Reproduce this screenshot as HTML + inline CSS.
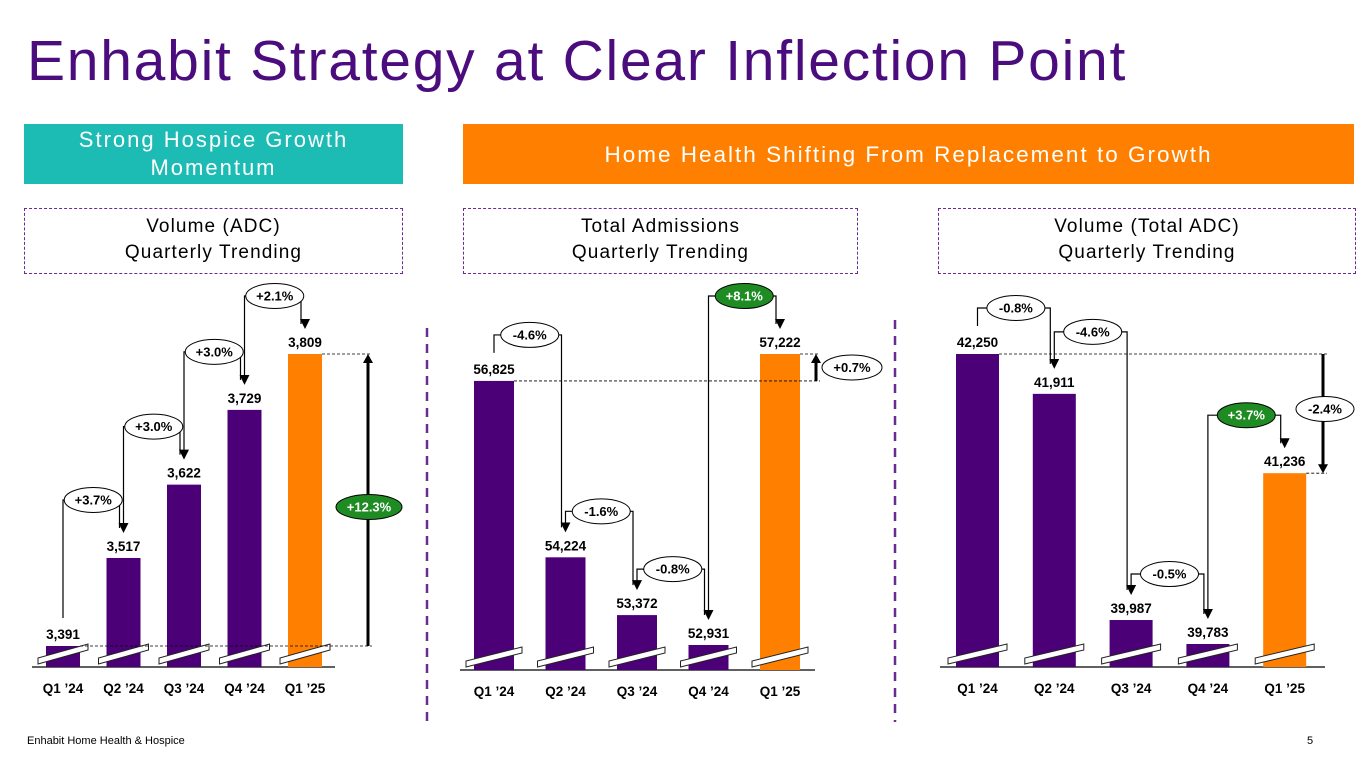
<!DOCTYPE html>
<html><head><meta charset="utf-8"><style>
body{margin:0;width:1365px;height:768px;overflow:hidden;background:#fff;font-family:"Liberation Sans",sans-serif}
.t{position:absolute}
</style></head><body>
<div class="t" style="left:27px;top:28px;font-size:57px;letter-spacing:1.75px;color:#4B0C7E;white-space:nowrap">Enhabit Strategy at Clear Inflection Point</div>
<div class="t" style="left:24px;top:124px;width:379px;height:60px;background:#1CBBB4;color:#fff;font-size:22px;text-align:center;line-height:28px;display:flex;align-items:center;justify-content:center;letter-spacing:2px">Strong Hospice Growth<br>Momentum</div>
<div class="t" style="left:463px;top:124px;width:891px;height:60px;background:#FF8000;color:#fff;font-size:22.5px;line-height:62px;text-align:center;letter-spacing:2px">Home Health Shifting From Replacement to Growth</div>
<div class="t" style="left:24px;top:208px;width:379px;border:1.5px dashed #6A2C91;font-size:19px;letter-spacing:1.1px;text-align:center;line-height:26px;padding-top:5px;box-sizing:border-box;height:66px">Volume (ADC)<br>Quarterly Trending</div>
<div class="t" style="left:463px;top:208px;width:395px;border:1.5px dashed #6A2C91;font-size:19px;letter-spacing:1.1px;text-align:center;line-height:26px;padding-top:5px;box-sizing:border-box;height:66px">Total Admissions<br>Quarterly Trending</div>
<div class="t" style="left:938px;top:208px;width:418px;border:1.5px dashed #6A2C91;font-size:19px;letter-spacing:1.1px;text-align:center;line-height:26px;padding-top:5px;box-sizing:border-box;height:66px">Volume (Total ADC)<br>Quarterly Trending</div>
<div class="t" style="left:27px;top:735px;font-size:11px">Enhabit Home Health &amp; Hospice</div>
<div class="t" style="left:1307px;top:735px;font-size:11px">5</div>
<svg id="s" class="t" style="left:0;top:0" width="1365" height="768">
<defs><marker id="ah" markerWidth="10" markerHeight="10" refX="5" refY="9" orient="auto" markerUnits="userSpaceOnUse"><path d="M0,0 L10,0 L5,10 Z" fill="#000" transform="rotate(-90 5 5)"/></marker></defs>
<line x1="427" y1="328" x2="427" y2="722" stroke="#6A2C91" stroke-width="2.5" stroke-dasharray="9,7"/>
<line x1="895" y1="320" x2="895" y2="722" stroke="#6A2C91" stroke-width="2.5" stroke-dasharray="9,7"/>
</svg>
<script>
const categories=["Q1 \u201924","Q2 \u201924","Q3 \u201924","Q4 \u201924","Q1 \u201925"];
const hospiceValues=[3391,3517,3622,3729,3809];
const admissionsValues=[56825,54224,53372,52931,57222];
const hhAdcValues=[42250,41911,39987,39783,41236];
const hospiceChanges=["+3.7%","+3.0%","+3.0%","+2.1%"];
const admissionsChanges=["-4.6%","-1.6%","-0.8%","+8.1%"];
const hhAdcChanges=["-0.8%","-4.6%","-0.5%","+3.7%"];
const hospiceTotal="+12.3%", admissionsTotal="+0.7%", hhAdcTotal="-2.4%";
const hospiceGreen=[false,false,false,false], admissionsGreen=[false,false,false,true], hhAdcGreen=[false,false,false,true];
const NS="http://www.w3.org/2000/svg", svg=document.getElementById('s');
const PUR="#4B0078",ORA="#FF8000",GRN="#1E8C22";
function mk(t,a,p){const e=document.createElementNS(NS,t);for(const k in a)e.setAttribute(k,a[k]);(p||svg).appendChild(e);return e;}
function fmt(v){return v.toLocaleString('en-US');}
function chart(o){
  const g=mk('g',{});
  
  
  const vals=o.values,mn=Math.min(...vals),mx=Math.max(...vals);
  const y=v=>o.minY+(v-mn)*(o.maxY-o.minY)/(mx-mn);
  const cx=i=>o.x0+i*o.step+o.bw/2;
  const ax=mk('line',{x1:o.axL,x2:o.axR,y1:o.base,y2:o.base,stroke:'#000','stroke-width':1.3},g);
  
  vals.forEach((v,i)=>{
    const r=mk('rect',{x:cx(i)-o.bw/2,y:y(v),width:o.bw,height:o.base-y(v),fill:i==4?ORA:PUR},g);
    
    const bx=cx(i)-o.bw/2-8,bw=o.bw+16,yb=o.base-3;
    const br=mk('path',{d:`M${bx},${yb} L${bx+bw},${yb-14} L${bx+bw},${yb-20} L${bx},${yb-6} Z`,fill:'#fff',stroke:'#222','stroke-width':1},g);
    
    const t=mk('text',{x:cx(i),y:y(v)-7,'text-anchor':'middle','font-size':13.5,'font-weight':'bold'},g);t.textContent=fmt(v);
    
    const c=mk('text',{x:cx(i),y:o.base+26,'text-anchor':'middle','font-size':13.5,'font-weight':'bold'},g);c.textContent=categories[i];
    
  });
  for(let i=0;i<4;i++){
    const yc=y(vals[i]),yn=y(vals[i+1]);
    const cy=Math.min(yc-46-(o.lift[i]||0),yn-58);
    const x1=cx(i),x2=cx(i+1)-4,ex=(cx(i)+cx(i+1))/2;
    const p=mk('path',{d:`M${x1},${yc-28} V${cy} H${x2} V${yn-30}`,fill:'none',stroke:'#000','stroke-width':1.2,'marker-end':'url(#ah)'},g);
    
    const gr=o.green[i];
    const e=mk('ellipse',{cx:ex,cy:cy,rx:29,ry:12.5,fill:gr?GRN:'#fff',stroke:'#000','stroke-width':1},g);
    
    const t=mk('text',{x:ex,y:cy+4.5,'text-anchor':'middle','font-size':13,'font-weight':'bold',fill:gr?'#fff':'#000'},g);t.textContent=o.changes[i];
    
  }
  const y0=y(vals[0]),y4=y(vals[4]);
  mk('line',{x1:cx(0)+o.bw/2,x2:o.tx+4,y1:y0,y2:y0,stroke:'#000','stroke-width':0.8,'stroke-dasharray':'3,2'},g);
  mk('line',{x1:cx(4)+o.bw/2,x2:o.tx+4,y1:y4,y2:y4,stroke:'#000','stroke-width':0.8,'stroke-dasharray':'3,2'},g);
  const up=y4<y0;
  const ar=mk('path',{d:`M${o.tx},${y0} V${y4+(up?8:-8)}`,stroke:'#000','stroke-width':3,fill:'none'},g);
  
  mk('path',{d:up?`M${o.tx-5},${y4+9} L${o.tx+5},${y4+9} L${o.tx},${y4} Z`:`M${o.tx-5},${y4-9} L${o.tx+5},${y4-9} L${o.tx},${y4} Z`,fill:'#000'},g);
  const tcy=o.tcy(y0,y4);
  const te=mk('ellipse',{cx:o.tex,cy:tcy,rx:o.trx,ry:12.5,fill:o.tGreen?GRN:'#fff',stroke:'#000','stroke-width':1},g);
  
  const tt=mk('text',{x:o.tex,y:tcy+4.5,'text-anchor':'middle','font-size':13,'font-weight':'bold',fill:o.tGreen?'#fff':'#000'},g);tt.textContent=o.total;
  
}
chart({name:'hospice-adc-chart',values:hospiceValues,changes:hospiceChanges,green:hospiceGreen,total:hospiceTotal,tGreen:true,lift:[],
  x0:46,step:60.5,bw:34,base:667,minY:646,maxY:354,axL:32,axR:335,tx:368,tex:369,trx:33,tcy:(a,b)=>(a+b)/2+7});
chart({name:'admissions-chart',values:admissionsValues,changes:admissionsChanges,green:admissionsGreen,total:admissionsTotal,tGreen:false,lift:[],
  x0:474,step:71.5,bw:40,base:670,minY:645,maxY:354,axL:460,axR:815,tx:816,tex:852,trx:30,tcy:(a,b)=>(a+b)/2});
chart({name:'home-health-adc-chart',values:hhAdcValues,changes:hhAdcChanges,green:hhAdcGreen,total:hhAdcTotal,tGreen:false,lift:[0,16,0,0],
  x0:956,step:76.8,bw:43,base:667,minY:644,maxY:354,axL:940,axR:1325,tx:1323,tex:1325,trx:29,tcy:(a,b)=>a+55});
</script>
</body></html>
